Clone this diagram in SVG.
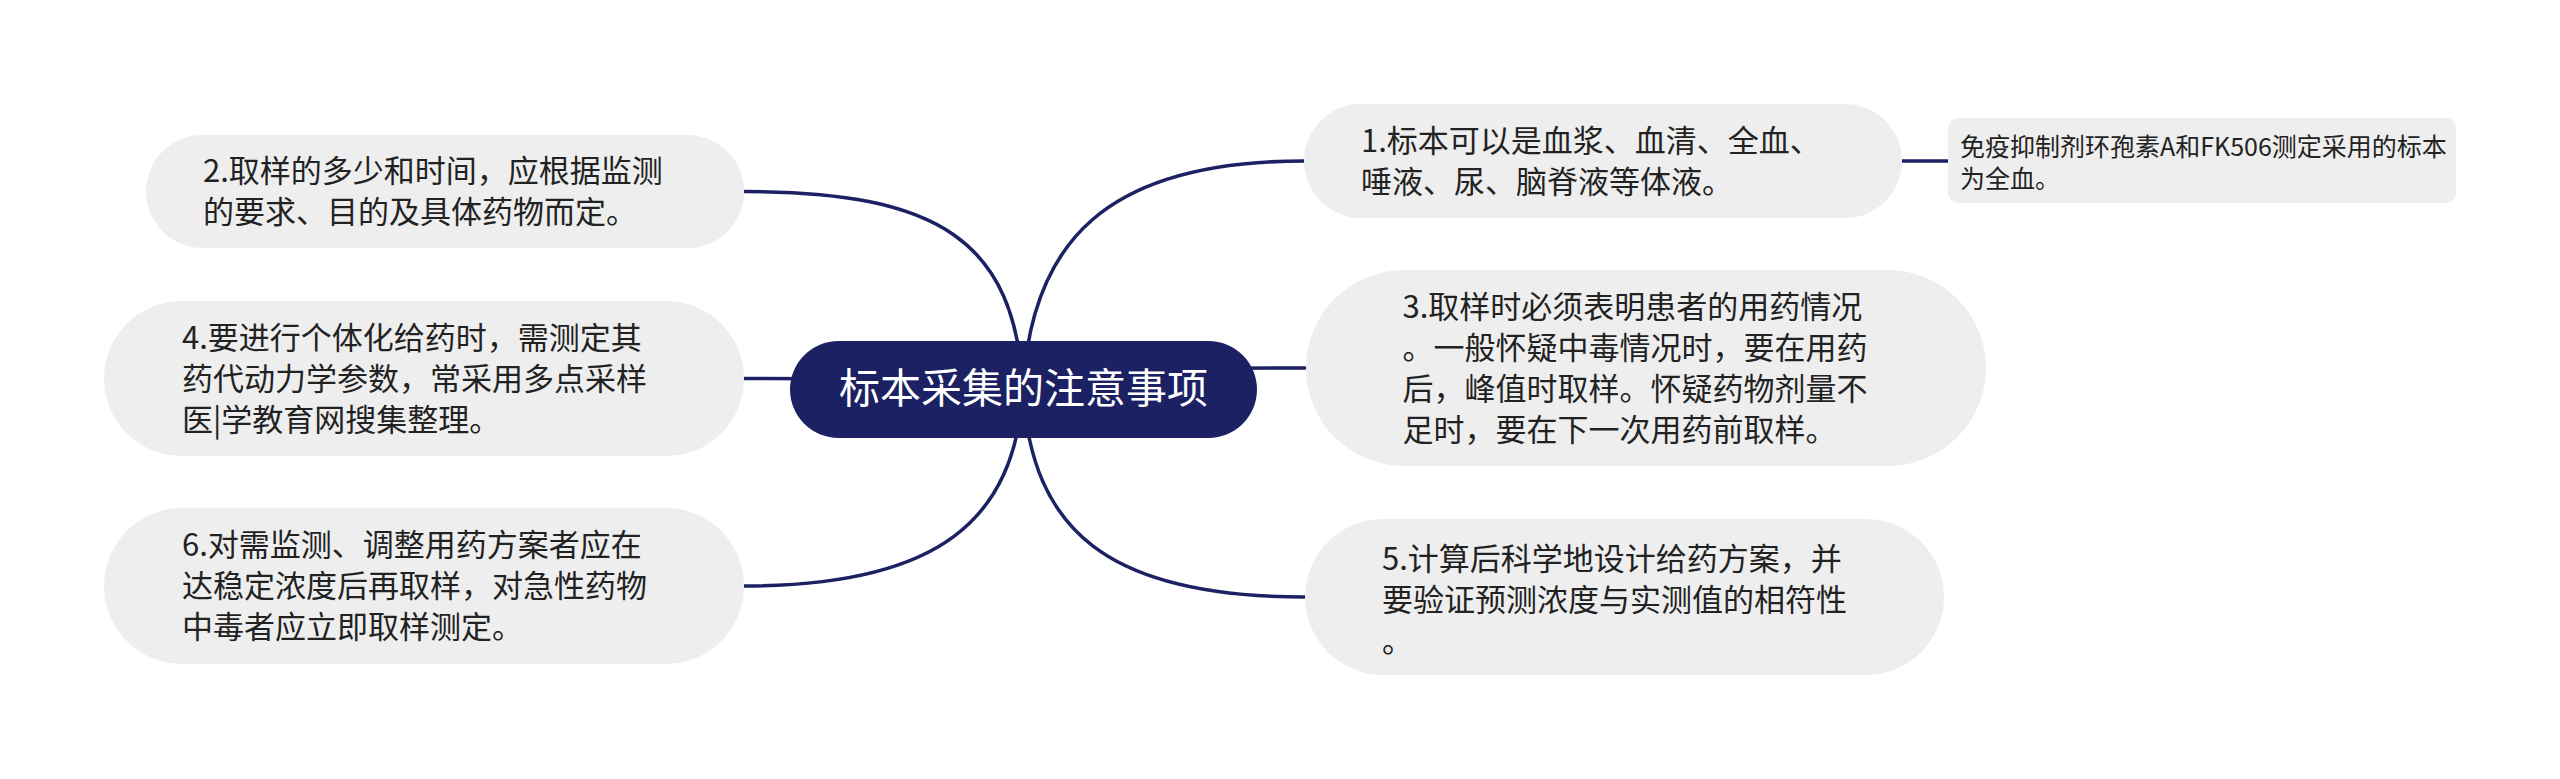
<svg xmlns="http://www.w3.org/2000/svg" width="2560" height="779" viewBox="0 0 2560 779">
<style>
.conn{fill:none;stroke:#1c2163;stroke-width:3.5}
.box{fill:#eeeeee}
.t{font-family:"Noto Sans CJK SC","Noto Sans",sans-serif;font-size:31px;fill:#222222}
.ts{font-family:"Noto Sans CJK SC","Noto Sans",sans-serif;font-size:25px;fill:#222222}
.tc{font-family:"Noto Sans CJK SC","Noto Sans",sans-serif;font-size:41px;fill:#ffffff}
</style>
<rect width="2560" height="779" fill="#ffffff"/>
<g id="connectors">
<path class="conn" d="M1023 389 C1031 241 1107 161 1304 161"/>
<path class="conn" d="M1023 389 C1150 368 1150 368 1306 368"/>
<path class="conn" d="M1023 389 C1031 530 1107 597 1305 597"/>
<path class="conn" d="M1023 389 C1015 241 939 191.5 744 191.5"/>
<path class="conn" d="M1023 389 C900 378.5 900 378.5 744 378.5"/>
<path class="conn" d="M1023 389 C1015 520 939 586 744 586"/>
<path class="conn" d="M1902 161 L1948 161"/>
</g>
<g id="node-center">
<rect x="790" y="341" width="467" height="97" rx="48.5" fill="#1c2163"/>
<text class="tc" x="1023.5" y="403" text-anchor="middle">标本采集的注意事项</text>
</g>
<g id="node-2">
<rect class="box" x="146" y="135" width="598" height="113" rx="56.5"/>
<text class="t" x="203" y="182">2.取样的多少和时间，应根据监测</text>
<text class="t" x="203" y="223">的要求、目的及具体药物而定。</text>
</g>
<g id="node-4">
<rect class="box" x="104" y="301" width="640" height="155" rx="77.5"/>
<text class="t" x="182" y="349">4.要进行个体化给药时，需测定其</text>
<text class="t" x="182" y="390">药代动力学参数，常采用多点采样</text>
<text class="t" x="182" y="431">医|学教育网搜集整理。</text>
</g>
<g id="node-6">
<rect class="box" x="104" y="508" width="640" height="156" rx="78"/>
<text class="t" x="182" y="556">6.对需监测、调整用药方案者应在</text>
<text class="t" x="182" y="597">达稳定浓度后再取样，对急性药物</text>
<text class="t" x="182" y="638">中毒者应立即取样测定。</text>
</g>
<g id="node-1">
<rect class="box" x="1304" y="104" width="598" height="114" rx="57"/>
<text class="t" x="1361" y="151.5">1.标本可以是血浆、血清、全血、</text>
<text class="t" x="1361" y="192.5">唾液、尿、脑脊液等体液。</text>
</g>
<g id="node-1-1">
<rect class="box" x="1948" y="118" width="508" height="85" rx="10"/>
<text class="ts" x="1960" y="156">免疫抑制剂环孢素A和FK506测定采用的标本</text>
<text class="ts" x="1960" y="188">为全血。</text>
</g>
<g id="node-3">
<rect class="box" x="1306" y="270" width="680" height="196" rx="98"/>
<text class="t" x="1402.5" y="317.5">3.取样时必须表明患者的用药情况</text>
<text class="t" x="1402.5" y="358.5">。一般怀疑中毒情况时，要在用药</text>
<text class="t" x="1402.5" y="399.5">后，峰值时取样。怀疑药物剂量不</text>
<text class="t" x="1402.5" y="440.5">足时，要在下一次用药前取样。</text>
</g>
<g id="node-5">
<rect class="box" x="1305" y="519" width="639" height="156" rx="78"/>
<text class="t" x="1382" y="570">5.计算后科学地设计给药方案，并</text>
<text class="t" x="1382" y="611">要验证预测浓度与实测值的相符性</text>
<text class="t" x="1382" y="652">。</text>
</g>
</svg>
